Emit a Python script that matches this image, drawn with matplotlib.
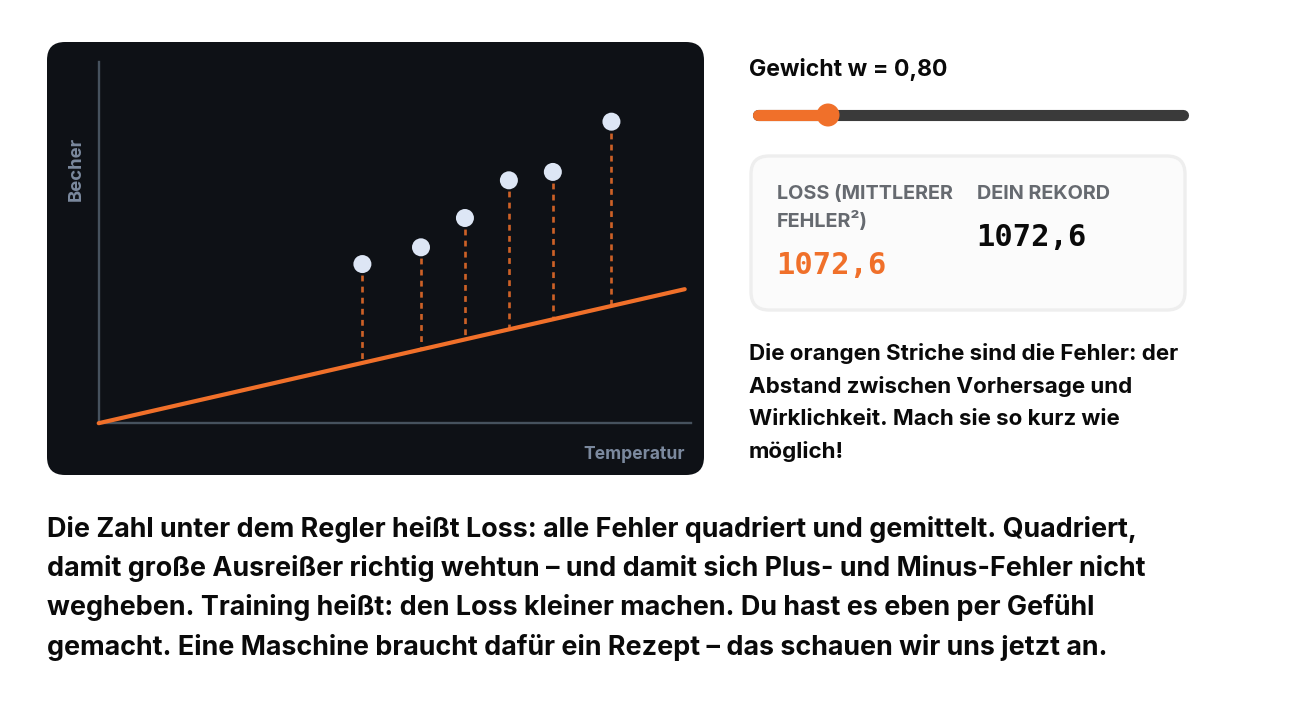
import matplotlib
matplotlib.use("Agg")
import matplotlib.pyplot as plt
from matplotlib.patches import FancyBboxPatch, Circle

# Data
temperatur = [18, 22, 25, 28, 31, 35]
becher = [38, 42, 49, 58, 60, 72]
gewicht = 0.80
loss_text = "1072,6"
x_max = 40.41
y_max = 86.2

intro_lines = [
    "Die Zahl unter dem Regler heißt Loss: alle Fehler quadriert und gemittelt. Quadriert,",
    "damit große Ausreißer richtig wehtun – und damit sich Plus- und Minus-Fehler nicht",
    "wegheben. Training heißt: den Loss kleiner machen. Du hast es eben per Gefühl",
    "gemacht. Eine Maschine braucht dafür ein Rezept – das schauen wir uns jetzt an.",
]
hint_lines = [
    "Die orangen Striche sind die Fehler: der",
    "Abstand zwischen Vorhersage und",
    "Wirklichkeit. Mach sie so kurz wie",
    "möglich!",
]

ORANGE = "#f0702a"
W, H = 1291, 712
plt.rcParams["font.family"] = ["Inter", "DejaVu Sans"]

fig = plt.figure(figsize=(W / 100, H / 100), dpi=100, facecolor="white")

# page layer in pixel coordinates
page = fig.add_axes([0, 0, 1, 1])
page.set_xlim(0, W)
page.set_ylim(H, 0)
page.axis("off")


def rounded(x0, y0, x1, y1, r, **kw):
    page.add_patch(FancyBboxPatch((x0 + r, y0 + r), x1 - x0 - 2 * r, y1 - y0 - 2 * r,
                                  boxstyle=f"round,pad={r},rounding_size={r}", **kw))


# chart panel
rounded(47, 42, 704, 475, 18, fc="#0e1116", ec="none", zorder=1)

# chart axes
ax = fig.add_axes([98.7 / W, 1 - 423.2 / H, (691 - 99) / W, (423 - 62) / H])
ax.patch.set_alpha(0)
ax.set_xlim(0, x_max)
ax.set_ylim(0, y_max)
ax.set_xticks([])
ax.set_yticks([])
for side in ["top", "right"]:
    ax.spines[side].set_visible(False)
for side in ["left", "bottom"]:
    ax.spines[side].set_color("#46525e")
    ax.spines[side].set_linewidth(1.7)

ax.plot([0, 40], [0, gewicht * 40], color=ORANGE, lw=3.0, solid_capstyle="round",
        clip_on=False, zorder=3)
for t, b in zip(temperatur, becher):
    ax.plot([t, t], [b, gewicht * t], color=ORANGE, lw=1.9, alpha=0.85,
            dashes=(2.2, 2.0), zorder=2)
ax.scatter(temperatur, becher, s=168, color="#dde6f5", edgecolors="none", zorder=4)

page.text(76, 169, "Becher", rotation=90, color="#7b899e", fontsize=13.3, fontweight="bold",
          ha="center", va="center", zorder=2)
page.text(684.5, 454.5, "Temperatur", color="#7b899e", fontsize=12.6, fontweight="bold",
          ha="right", va="center", zorder=2)

# slider
page.text(749, 69.5, "Gewicht w = 0,80", color="#0a0a0a", fontsize=16.6, fontweight="bold",
          va="center")
page.plot([758, 1183], [115, 115], color="#3a3a3a", lw=8.0, solid_capstyle="round")
page.plot([758, 828], [115, 115], color=ORANGE, lw=8.0, solid_capstyle="round")
page.add_patch(Circle((828, 115), 11.5, fc=ORANGE, ec="none", zorder=3))

# loss card
rounded(751, 156, 1185, 310, 18, fc="#fbfbfb", ec="#eeeeee", lw=2.4)
page.text(777, 194, "LOSS (MITTLERER", color="#666a70", fontsize=14.3, fontweight="bold", va="center")
page.text(777, 221, "FEHLER²)", color="#666a70", fontsize=14.3, fontweight="bold", va="center")
page.text(977, 194, "DEIN REKORD", color="#666a70", fontsize=14.3, fontweight="bold", va="center")
page.text(776, 265, loss_text, color=ORANGE, fontsize=22, fontweight="bold",
          family="DejaVu Sans Mono", va="center")
page.text(976, 238, loss_text, color="#0a0a0a", fontsize=22, fontweight="bold",
          family="DejaVu Sans Mono", va="center")

for i, line in enumerate(hint_lines):
    page.text(749, 354 + i * 32.5, line, color="#0a0a0a", fontsize=16.1, fontweight="bold", va="center")
for i, line in enumerate(intro_lines):
    page.text(47, 529.5 + i * 39.2, line, color="#0a0a0a", fontsize=19.4, fontweight="bold", va="center")

fig.savefig("out.png", dpi=100)
